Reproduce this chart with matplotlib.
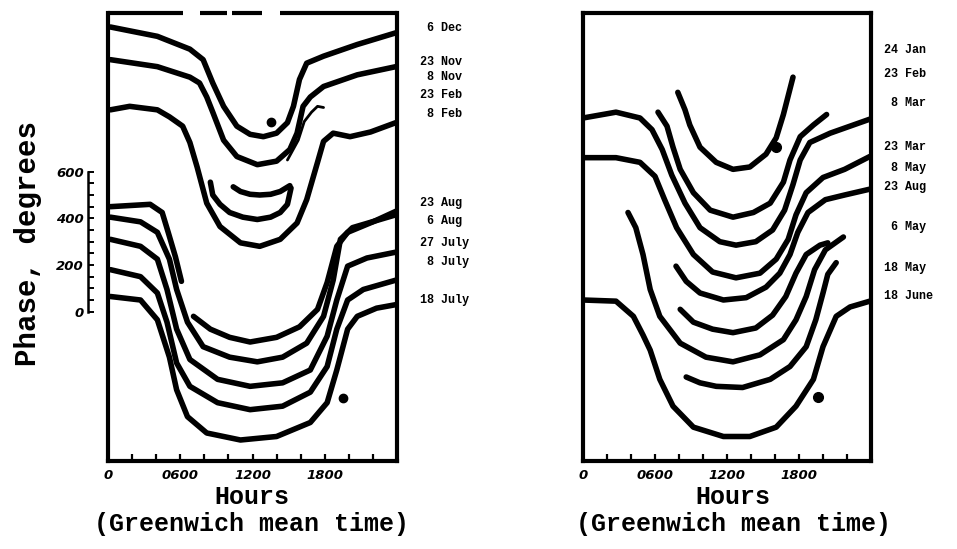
import numpy as np
import matplotlib
matplotlib.use("Agg")
import matplotlib.pyplot as plt
from matplotlib.ticker import FixedLocator
from matplotlib.transforms import blended_transform_factory


FIG_W, FIG_H = 957, 549
LINE_W = 4.0
MONO = "Liberation Mono"

# ---- left panel curves: (hours GMT, phase degrees) ----
dec_6 = ([0.2, 4.1, 6.8, 7.9, 8.7, 9.6, 10.7, 11.8, 12.9, 14.0, 14.9, 15.4, 15.9, 16.5, 17.9, 20.7, 23.9],
         [1220, 1180, 1125, 1080, 980, 880, 795, 760, 750, 765, 810, 880, 995, 1065, 1095, 1145, 1195])
nov_23 = ([0.2, 4.1, 6.8, 7.6, 8.2, 8.7, 9.6, 10.7, 12.4, 14.0, 15.1, 15.7, 16.2, 16.8, 17.9, 20.7, 23.9],
          [1080, 1050, 1005, 980, 920, 855, 735, 665, 630, 645, 695, 765, 880, 920, 965, 1015, 1050])
nov_8 = ([14.9, 15.8, 16.3, 16.9, 17.4, 17.9],
         [650, 735, 815, 855, 880, 875])
feb_23 = ([10.4, 11.0, 11.8, 12.6, 13.5, 14.3, 15.1],
          [535, 515, 503, 500, 503, 515, 540])
feb_23b = ([8.5, 8.7, 9.3, 10.1, 11.2, 12.4, 13.5, 14.3, 14.9, 15.2],
           [555, 500, 460, 425, 405, 395, 405, 425, 460, 530])
feb_8 = ([0.2, 1.8, 4.1, 5.1, 6.2, 6.8, 7.4, 8.2, 9.3, 11.0, 12.6, 14.3, 15.7, 16.5, 17.4, 17.9, 18.7, 20.1, 21.8, 23.9],
         [865, 880, 865, 835, 795, 725, 620, 465, 365, 295, 280, 310, 380, 480, 640, 730, 765, 750, 770, 810])
aug_23 = ([0.2, 3.5, 4.5, 5.0, 5.6, 6.1],
          [450, 460, 425, 340, 235, 130])
aug_6 = ([7.1, 8.5, 10.1, 11.8, 14.0, 15.9, 17.4, 18.2, 19.0, 19.9, 22.0, 23.9],
         [-20, -75, -110, -130, -110, -65, 10, 125, 280, 340, 385, 430])
jul_27 = ([0.2, 2.7, 4.1, 5.1, 5.7, 6.6, 7.9, 10.1, 12.4, 14.5, 16.5, 17.9, 18.7, 19.3, 20.3, 23.9],
          [405, 385, 340, 225, 95, -45, -150, -195, -215, -195, -135, -20, 135, 310, 360, 415])
jul_8 = ([0.2, 2.7, 4.1, 4.9, 5.7, 6.8, 9.1, 11.8, 14.5, 16.8, 18.2, 19.0, 19.9, 21.5, 23.9],
         [310, 280, 225, 95, -75, -205, -290, -320, -305, -250, -105, 50, 195, 230, 255])
jul_18a = ([0.2, 2.7, 4.1, 4.9, 5.7, 6.8, 9.1, 11.8, 14.5, 16.8, 18.2, 19.0, 19.9, 21.2, 23.9],
           [180, 150, 80, -45, -220, -320, -390, -420, -405, -345, -235, -75, 50, 95, 135])
jul_18 = ([0.2, 2.7, 4.1, 5.1, 5.7, 6.6, 8.2, 11.0, 14.0, 16.8, 18.2, 19.0, 19.9, 20.7, 22.3, 23.9],
          [65, 50, -35, -195, -335, -450, -520, -550, -535, -475, -390, -250, -75, -20, 15, 30])

left_curves = [dec_6, nov_23, feb_8, feb_23b, feb_23, aug_23, aug_6, jul_27, jul_8, jul_18a, jul_18]
left_thin = [nov_8]
left_dots = ([19.5, 13.5], [-370, 815])

left_labels = [" 6 Dec", "23 Nov", " 8 Nov", "23 Feb", " 8 Feb",
               "23 Aug", " 6 Aug", "27 July", " 8 July", "18 July"]
left_label_y = [28, 62, 77, 95, 114, 203, 221, 243, 262, 300]

# ---- right panel curves ----
jan_24 = ([7.9, 8.5, 8.9, 9.75, 11.1, 12.5, 13.9, 15.25, 16.1, 16.7, 17.5],
          [940, 865, 800, 705, 640, 610, 620, 675, 745, 845, 1005])
feb_23r = ([6.25, 7.0, 7.5, 8.1, 9.2, 10.6, 12.5, 14.2, 15.6, 16.7, 17.25, 18.1, 19.2, 20.3],
           [855, 795, 705, 610, 510, 435, 405, 425, 465, 555, 650, 750, 800, 845])
mar_8 = ([0.0, 2.75, 4.75, 5.75, 6.6, 7.4, 8.5, 9.75, 11.4, 12.75, 14.4, 15.8, 16.8, 17.5, 18.1, 18.9, 20.6, 22.25, 23.9],
         [830, 855, 830, 780, 695, 585, 465, 360, 300, 285, 300, 350, 435, 545, 650, 725, 765, 795, 825])
mar_23 = ([0.0, 2.75, 4.75, 6.0, 6.8, 7.8, 9.2, 10.8, 12.75, 14.75, 16.1, 17.1, 17.75, 18.6, 20.0, 21.8, 23.9],
          [660, 660, 640, 580, 480, 360, 245, 170, 145, 165, 225, 310, 415, 510, 575, 610, 665])
may_8 = ([7.75, 8.6, 9.75, 11.7, 13.6, 15.25, 16.4, 17.25, 17.9, 18.75, 20.2, 21.8, 23.9],
         [195, 130, 80, 50, 60, 105, 165, 245, 340, 425, 480, 500, 525])
aug_23r = ([8.1, 9.2, 10.8, 12.5, 14.4, 15.8, 16.9, 17.75, 18.6, 19.75, 20.4],
           [10, -45, -75, -90, -70, -15, 65, 165, 245, 285, 295])
may_6 = ([3.75, 4.4, 5.0, 5.6, 6.4, 8.1, 10.25, 12.5, 14.75, 16.7, 17.75, 18.6, 19.3, 20.2, 21.7],
         [425, 360, 245, 95, -20, -135, -195, -215, -185, -120, -35, 65, 180, 265, 320])
may_18 = ([8.6, 9.75, 11.1, 13.3, 15.6, 17.25, 18.6, 19.4, 20.0, 20.4, 21.1],
          [-280, -305, -320, -325, -290, -235, -150, -35, 80, 160, 210])
jun_18 = ([0.0, 2.75, 4.2, 5.0, 5.6, 6.4, 7.5, 9.2, 11.7, 13.9, 16.1, 17.75, 19.2, 20.0, 21.1, 22.25, 23.9],
          [50, 45, -20, -100, -165, -290, -405, -495, -535, -535, -495, -405, -290, -150, -20, 20, 45])

right_curves = [jan_24, feb_23r, mar_8, mar_23, may_8, aug_23r, may_6, may_18, jun_18]
right_dots = ([16.1, 19.6], [705, -365])

right_labels = ["24 Jan", "23 Feb", " 8 Mar", "23 Mar", " 8 May",
                "23 Aug", " 6 May", "18 May", "18 June"]
right_label_y = [50, 74, 103, 147, 168, 187, 227, 268, 296]

hour_ticks = [0, 6, 12, 18]
hour_tick_labels = ["0", "0600", "1200", "1800"]
scale_ticks = [0, 200, 400, 600]

# gaps in the scanned top frame of the left panel (hours)
top_edge_segments = [(0.0, 6.2), (7.6, 9.9), (10.3, 12.8), (14.3, 24.0)]


def px(x, y):
    return x / FIG_W, 1 - y / FIG_H


def setup_panel(ax):
    ax.set_xlim(0, 24)
    ax.set_ylim(-640, 1280)
    ax.set_yticks([])
    ax.set_xticks(hour_ticks)
    ax.set_xticklabels(hour_tick_labels, fontsize=9.5, fontweight="heavy",
                       fontstyle="italic", family="DejaVu Sans")
    ax.xaxis.set_minor_locator(FixedLocator(np.arange(2, 24, 2)))
    ax.tick_params(axis="x", which="both", direction="in", length=5, width=1.6, pad=6)
    for s in ax.spines.values():
        s.set_linewidth(3.0)


def draw_curves(ax, curves, lw):
    for hrs, ph in curves:
        ax.plot(hrs, ph, color="black", lw=lw, solid_capstyle="round",
                solid_joinstyle="round")


fig = plt.figure(figsize=(FIG_W / 100, FIG_H / 100), dpi=100)
ax_l = fig.add_axes([108 / FIG_W, 1 - 461 / FIG_H, 289 / FIG_W, 448 / FIG_H])
ax_r = fig.add_axes([583 / FIG_W, 1 - 461 / FIG_H, 288 / FIG_W, 448 / FIG_H])

for ax in (ax_l, ax_r):
    setup_panel(ax)

draw_curves(ax_l, left_curves, LINE_W)
draw_curves(ax_l, left_thin, 2.0)
ax_l.plot(*left_dots, "o", color="black", ms=6)
draw_curves(ax_r, right_curves, LINE_W)
ax_r.plot(*right_dots, "o", color="black", ms=7)

# broken top edge on the left panel
ax_l.spines["top"].set_visible(False)
trans = blended_transform_factory(ax_l.transData, ax_l.transAxes)
for x0, x1 in top_edge_segments:
    ax_l.plot([x0, x1], [1, 1], color="black", lw=3.0, transform=trans,
              clip_on=False, solid_capstyle="butt")

# phase scale bar left of the left panel
sec = ax_l.secondary_yaxis(-0.069)
sec.spines["left"].set_bounds(0, 600)
sec.spines["left"].set_linewidth(1.8)
sec.set_yticks(scale_ticks)
sec.yaxis.set_minor_locator(FixedLocator(np.arange(0, 601, 50)))
sec.tick_params(which="both", direction="in", length=4, width=1.4, pad=3)
for t in sec.get_yticklabels():
    t.set_fontsize(9.5)
    t.set_fontweight("heavy")
    t.set_fontstyle("italic")

fig.text(*px(28, 243), "Phase, degrees", rotation=90, ha="center", va="center",
         family=MONO, fontsize=21, fontweight="bold")

for cx in (252, 733):
    fig.text(*px(cx, 497), "Hours", ha="center", va="center", family=MONO,
             fontsize=18, fontweight="bold")
    fig.text(*px(cx, 524), "(Greenwich mean time)", ha="center", va="center",
             family=MONO, fontsize=18, fontweight="bold")

for lab, y in zip(left_labels, left_label_y):
    fig.text(*px(420, y), lab, ha="left", va="center", family=MONO,
             fontweight="bold", fontsize=8.5)
for lab, y in zip(right_labels, right_label_y):
    fig.text(*px(884, y), lab, ha="left", va="center", family=MONO,
             fontweight="bold", fontsize=8.5)

fig.savefig("out.png", dpi=100, facecolor="white")
